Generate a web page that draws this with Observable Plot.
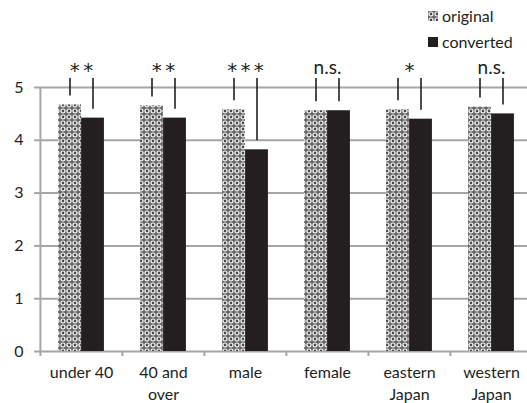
<!DOCTYPE html>
<html><head><meta charset="utf-8">
<script src="https://cdn.jsdelivr.net/npm/d3@7"></script>
<script src="https://cdn.jsdelivr.net/npm/@observablehq/plot@0.6"></script>
<style>
html,body{margin:0;padding:0;background:#fff;overflow:hidden;}
#wrap{position:relative;width:527px;height:403px;font-family:Lato,"Open Sans",sans-serif;color:#231f20;}
#legend{position:absolute;left:428px;top:3px;font-size:16px;line-height:26px;}
#legend .item{display:flex;align-items:center;white-space:nowrap;}
#legend svg{margin-right:4px;}
#chart{position:absolute;left:0;top:0;}
</style></head>
<body><div id="wrap"><div id="chart"></div><div id="legend"></div></div>
<script>
// ---- data ----
const categories = ["under 40", "40 and\nover", "male", "female", "eastern\nJapan", "western\nJapan"];
const original   = [4.67, 4.65, 4.58, 4.56, 4.58, 4.63];
const converted  = [4.42, 4.42, 3.82, 4.56, 4.40, 4.50];
const significance = ["**", "**", "***", "n.s.", "*", "n.s."];
const yTicks = [0, 1, 2, 3, 4, 5];
const seriesNames = ["original", "converted"];

// ---- layout / style ----
const W = 527, H = 403;
const mL = 39, mR = -5, mT = 87, mB = 52;
const half = (W - mL - mR) / categories.length / 2;
const barW = 23;
const bracketTop = 5.17, legGap = 0.17;
const gray = "#a6a6a6", ink = "#231f20";

const rows = categories.map((c, i) => ({category: c, original: original[i], converted: converted[i], sig: significance[i]}));
const isStar = s => s.startsWith("*");
const starText = s => s.split("").join("\u2006");

const plot = Plot.plot({
  width: W, height: H,
  marginTop: mT, marginBottom: mB, marginLeft: mL, marginRight: mR,
  style: {fontFamily: "Lato, 'Open Sans', sans-serif", fontSize: "14px", color: ink, background: "transparent", overflow: "visible"},
  x: {domain: categories, padding: 0, axis: null},
  y: {domain: [0, 5], axis: null},
  marks: [
    Plot.ruleY(yTicks, {stroke: gray, strokeWidth: 2}),
    Plot.axisY({ticks: yTicks, tickFormat: d3.format("d"), tickSize: 5, tickPadding: 11, stroke: gray, strokeWidth: 2, fill: ink, fontSize: 16}),
    Plot.ruleX(categories.slice(0, 1), {x: d => d, y1: 0, y2: 5, dx: -half, stroke: gray, strokeWidth: 2}),
    Plot.ruleX(categories, {x: d => d, y1: 0, y2: 0, insetBottom: -5, dx: -half, stroke: gray, strokeWidth: 2}),
    Plot.barY(rows, {x: "category", y: "original", fill: "url(#pat)", insetLeft: half - barW, insetRight: half}),
    Plot.barY(rows, {x: "category", y: "converted", fill: ink, insetLeft: half, insetRight: half - barW}),
    Plot.ruleX(rows, {x: "category", y1: d => d.original + legGap, y2: () => bracketTop, dx: -barW / 2, stroke: ink, strokeWidth: 1.6}),
    Plot.ruleX(rows, {x: "category", y1: d => d.converted + legGap, y2: () => bracketTop, dx: barW / 2, stroke: ink, strokeWidth: 1.6}),
    Plot.ruleY(rows, {x: "category", y: () => bracketTop, insetLeft: half - barW / 2 - 0.8, insetRight: half - barW / 2 - 0.8, stroke: ink, strokeWidth: 1.6}),
    Plot.text(rows.filter(d => !isStar(d.sig)), {x: "category", text: "sig", frameAnchor: "top", lineAnchor: "middle", dy: -20, fontSize: 19, fill: ink}),
    Plot.text(rows.filter(d => isStar(d.sig)), {x: "category", text: d => starText(d.sig), frameAnchor: "top", lineAnchor: "middle", dy: -17, fontSize: 20, fontFamily: "'DejaVu Sans', sans-serif", fill: ink}),
    Plot.text(rows, {x: "category", text: "category", frameAnchor: "bottom", lineAnchor: "top", dy: 10, lineHeight: 1.42, fontSize: 16, fill: ink})
  ]
});

const defs = d3.select(plot).insert("defs", ":first-child");
const pat = defs.append("pattern").attr("id", "pat").attr("width", 6).attr("height", 6).attr("patternUnits", "userSpaceOnUse");
pat.append("rect").attr("width", 6).attr("height", 6).attr("fill", "#6a6a6a");
pat.append("circle").attr("cx", 3).attr("cy", 3).attr("r", 2).attr("fill", "#4a4a4a").attr("stroke", "#fff").attr("stroke-width", 1.2);
document.getElementById("chart").appendChild(plot);

const legend = d3.select("#legend");
seriesNames.forEach((name, i) => {
  const item = legend.append("div").attr("class", "item");
  const s = item.append("svg").attr("width", 10).attr("height", 10);
  s.append("rect").attr("width", 10).attr("height", 10).attr("fill", i === 0 ? "url(#pat)" : ink);
  item.append("span").text(name);
});
</script>
</body></html>
